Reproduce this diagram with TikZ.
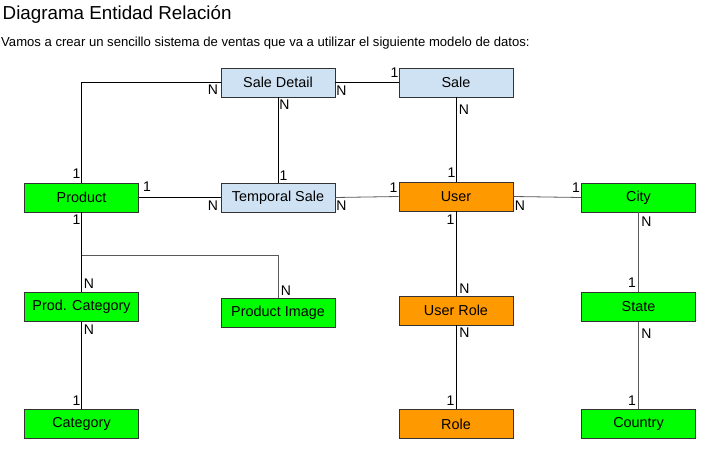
\documentclass[tikz,border=0pt]{standalone}
\usepackage{fontspec}
\setmainfont{Liberation Sans}
\definecolor{lblue}{HTML}{CFE2F3}
\definecolor{orng}{HTML}{FF9900}
\definecolor{grn}{HTML}{00FF00}
\definecolor{bord}{HTML}{333333}
\begin{document}
\begin{tikzpicture}[x=1pt,y=-1pt,
  ent/.style={draw=bord,line width=0.9pt,minimum width=114pt,minimum height=29pt,inner sep=0pt,font=\fontsize{14.4}{16}\selectfont},
  bl/.style={ent,fill=lblue},
  og/.style={ent,fill=orng},
  gr/.style={ent,fill=grn},
  conn/.style={draw=black,line width=0.8pt},
  conng/.style={draw=black!65,line width=0.8pt},
  card/.style={inner sep=0pt,font=\fontsize{14}{16}\selectfont}]
\useasboundingbox (0,0) rectangle (703,449);
\fill[white] (0,0) rectangle (703,449);
% titles
\node[anchor=base west,inner sep=0pt,font=\fontsize{18.8}{22}\selectfont] (title) at (2.5,20) {Diagrama Entidad Relación};
\node[anchor=base west,inner sep=0pt,font=\fontsize{13.1}{15}\selectfont] (sub) at (1,47) {Vamos a crear un sencillo sistema de ventas que va a utilizar el siguiente modelo de datos:};
% entities
\node[bl] (sd) at (278,82.5) {Sale Detail};
\node[bl] (sale) at (456,82.5) {Sale};
\node[gr] (prod) at (81.5,197.5) {Product};
\node[bl] (ts) at (278,197.5) {Temporal Sale};
\node[og] (user) at (456,196.5) {User};
\node[gr] (city) at (638.5,197.5) {City};
\node[gr] (pc) at (81.5,307) {Prod. Category};
\node[gr] (pi) at (278,313) {Product Image};
\node[og] (ur) at (456,310.5) {User Role};
\node[gr] (state) at (638.5,307) {State};
\node[gr] (cat) at (81.5,424) {Category};
\node[og] (role) at (456,424) {Role};
\node[gr] (country) at (638.5,424) {Country};
% connectors
\coordinate (br) at (81.5,255);
\draw[conn] (sd.west) -| (prod.north);
\draw[conn] (sd.east) -- (sale.west);
\draw[conn] (sd.south) -- (ts.north);
\draw[conn] (prod.east) -- (ts.west);
\draw[conng] (ts.east) -- (user.west);
\draw[conn] (sale.south) -- (user.north);
\draw[conng] (user.east) -- (city.west);
\draw[conn] (prod.south) -- (pc.north);
\draw[conng] (br) -| (pi.north);
\draw[conn] (pc.south) -- (cat.north);
\draw[conn] (user.south) -- (ur.north);
\draw[conn] (ur.south) -- (role.north);
\draw[conng] (city.south) -- (state.north);
\draw[conng] (state.south) -- (country.north);
% cardinalities
\node[card] (c1) at (213,90) {N};
\node[card] (c2) at (341.5,91) {N};
\node[card] (c3) at (394.5,73) {1};
\node[card] (c4) at (284.5,105) {N};
\node[card] (c5) at (283.5,175.5) {1};
\node[card] (c6) at (76.5,173.5) {1};
\node[card] (c7) at (147,186.5) {1};
\node[card] (c8) at (213,206) {N};
\node[card] (c9) at (341.5,206) {N};
\node[card] (c10) at (393.5,187.5) {1};
\node[card] (c11) at (464,109.5) {N};
\node[card] (c12) at (451.5,173) {1};
\node[card] (c13) at (520,206) {N};
\node[card] (c14) at (576,187.5) {1};
\node[card] (c15) at (76.5,220) {1};
\node[card] (c16) at (89,284) {N};
\node[card] (c17) at (286,291) {N};
\node[card] (c18) at (89,330) {N};
\node[card] (c19) at (76.5,401) {1};
\node[card] (c20) at (450.5,219.5) {1};
\node[card] (c21) at (464.5,288.5) {N};
\node[card] (c22) at (464.5,333) {N};
\node[card] (c23) at (450.5,400.5) {1};
\node[card] (c24) at (646.5,221.5) {N};
\node[card] (c25) at (632,283) {1};
\node[card] (c26) at (646.5,334) {N};
\node[card] (c27) at (632,400.5) {1};
\end{tikzpicture}
\end{document}
